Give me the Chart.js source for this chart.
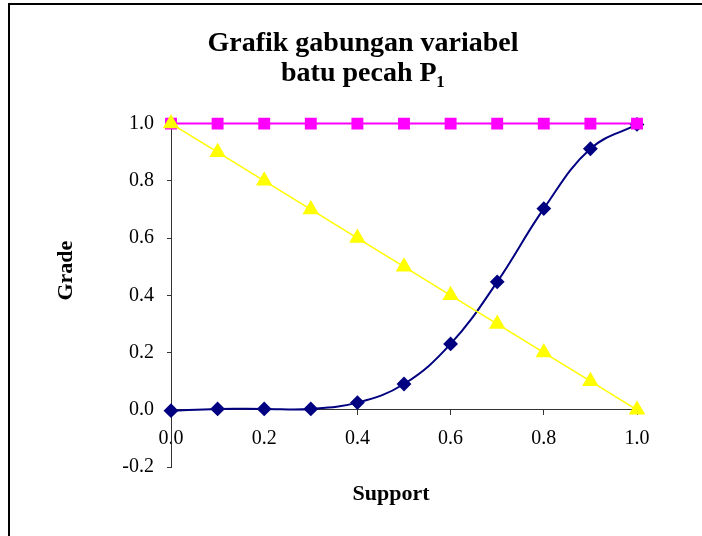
<!DOCTYPE html>
<html>
<head>
<meta charset="utf-8">
<script src="https://cdn.jsdelivr.net/npm/chart.js@4/dist/chart.umd.min.js"></script>
<style>
    html, body { margin: 0; padding: 0; background: #fff; overflow: hidden; }
    #frame {
        position: absolute; left: 8px; top: 3px; width: 2000px; height: 2000px;
        border-left: 2px solid #000; border-top: 2px solid #000;
    }
    #chart { position: absolute; left: 0; top: 0; }
</style>
</head>
<body>
<div id="frame"></div>
<canvas id="chart" width="702" height="536"></canvas>
<script>
// Support values (x) and the three grade curves
const support = [0.0, 0.1, 0.2, 0.3, 0.4, 0.5, 0.6, 0.7, 0.8, 0.9, 1.0];
const gradeNavy = [-0.003, 0.003, 0.003, 0.003, 0.025, 0.09, 0.23, 0.447, 0.703, 0.912, 0.997];
const gradeMagenta = [1.0, 1.0, 1.0, 1.0, 1.0, 1.0, 1.0, 1.0, 1.0, 1.0, 1.0];
const gradeYellow = [1.0, 0.9, 0.8, 0.7, 0.6, 0.5, 0.4, 0.3, 0.2, 0.1, 0.0];

const yTicks = [-0.2, 0.0, 0.2, 0.4, 0.6, 0.8, 1.0];
const xTicks = [0.0, 0.2, 0.4, 0.6, 0.8, 1.0];

const serif = "'Liberation Serif', 'Times New Roman', serif";
Chart.defaults.font.family = serif;
Chart.defaults.color = '#000';

const toPoints = (ys) => support.map((x, i) => ({ x: x, y: ys[i] }));

const axisColor = '#333';

// Excel places the axis titles a bit off the plot centre, so draw them here
const axisTitles = {
    id: 'axisTitles',
    afterDraw(chart) {
        const { ctx, chartArea } = chart;
        ctx.save();
        ctx.fillStyle = '#000';
        ctx.font = 'bold 22px ' + serif;
        ctx.textAlign = 'center';
        ctx.textBaseline = 'alphabetic';
        ctx.fillText('Support', chartArea.left + 220, chartArea.bottom + 33);
        ctx.translate(chartArea.left - 99, chartArea.top + 147);
        ctx.rotate(-Math.PI / 2);
        ctx.fillText('Grade', 0, 0);
        ctx.restore();
    }
};

new Chart(document.getElementById('chart').getContext('2d'), {
    type: 'line',
    data: {
        datasets: [
            {
                label: 'Series1',
                data: toPoints(gradeNavy),
                borderColor: '#000080',
                backgroundColor: '#000080',
                borderWidth: 2,
                pointStyle: 'rectRot',
                pointRadius: 6,
                tension: 0.4,
                clip: false,
                order: 3
            },
            {
                label: 'Series2',
                data: toPoints(gradeMagenta),
                borderColor: '#ff00ff',
                backgroundColor: '#ff00ff',
                borderWidth: 2,
                pointStyle: 'rect',
                pointRadius: 7,
                tension: 0,
                clip: false,
                order: 2
            },
            {
                label: 'Series3',
                data: toPoints(gradeYellow),
                borderColor: '#ffff00',
                backgroundColor: '#ffff00',
                borderWidth: 1.5,
                pointStyle: 'triangle',
                pointRadius: 8,
                tension: 0,
                clip: false,
                order: 1
            }
        ]
    },
    options: {
        responsive: false,
        animation: false,
        devicePixelRatio: 1,
        layout: { padding: { left: 40, right: 16, top: 0, bottom: 69 } },
        plugins: {
            legend: { display: false },
            tooltip: { enabled: false },
            title: {
                display: true,
                text: ['Grafik gabungan variabel', 'batu pecah P\u2081'],
                font: { size: 28, weight: 'bold', family: serif, lineHeight: 1.1 },
                color: '#000',
                padding: { top: 28, bottom: 34 }
            }
        },
        scales: {
            // x axis crossing at y = 0
            x: {
                type: 'linear',
                position: { y: 0 },
                min: 0,
                max: 1,
                afterBuildTicks: (s) => { s.ticks = xTicks.map(v => ({ value: v })); },
                ticks: {
                    font: { size: 20, family: serif },
                    padding: 12,
                    callback: (v) => Number(v).toFixed(1)
                },
                grid: { drawOnChartArea: false, tickLength: 5, color: axisColor },
                border: { color: axisColor, width: 1 }
            },
            y: {
                type: 'linear',
                position: 'left',
                min: -0.2,
                max: 1.0,
                afterBuildTicks: (s) => { s.ticks = yTicks.map(v => ({ value: v })); },
                afterFit: (s) => { s.width = 131; },
                ticks: {
                    font: { size: 20, family: serif },
                    padding: 13,
                    callback: (v) => Number(v).toFixed(1)
                },
                grid: { drawOnChartArea: false, tickLength: 4, color: axisColor },
                border: { color: axisColor, width: 1 }
            },
            // empty right axis, keeps the plot and title where the reference has them
            yRight: {
                type: 'linear',
                position: 'right',
                ticks: { display: false },
                grid: { display: false, drawTicks: false },
                border: { display: false },
                afterFit: (s) => { s.width = 49; }
            }
        }
    },
    plugins: [axisTitles]
});
</script>
</body>
</html>
